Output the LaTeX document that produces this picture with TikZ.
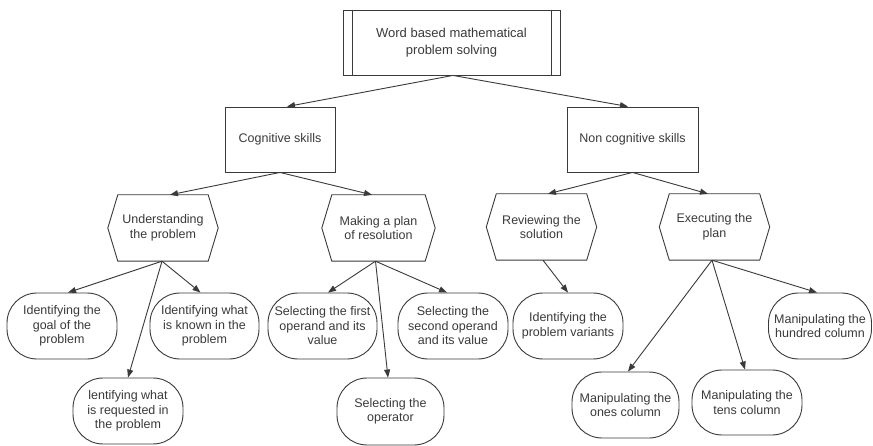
\documentclass[tikz,border=0pt]{standalone}
\usepackage{fontspec}
\setmainfont{Liberation Sans}
\usetikzlibrary{arrows.meta}
\definecolor{ink}{HTML}{3A3A3A}
\begin{document}
\begin{tikzpicture}[x=1pt,y=-1pt,
  txt/.style={text=ink, align=center, inner sep=0pt, font=\fontsize{12.5}{14.5}\selectfont},
  rectbox/.style={txt, draw=ink, line width=0.9pt},
  hexbox/.style={txt, minimum width=110pt, minimum height=66pt},
  roundbox/.style={txt, draw=ink, line width=0.9pt, rounded corners=30pt, minimum height=66pt},
  conn/.style={draw=ink, line width=0.9pt, -{Triangle[length=8pt,width=6pt]}},
  outline/.style={draw=ink, line width=0.9pt}
]
\fill[white] (0,0) rectangle (873,446);
\useasboundingbox (0,0) rectangle (873,446);

% root
\node[rectbox, minimum width=217pt, minimum height=65pt,
      font=\fontsize{13}{17}\selectfont] (t) at (451.5,42.5) {Word based mathematical\\problem solving};
\draw[outline] ([xshift=10pt]t.north west) -- ([xshift=10pt]t.south west);
\draw[outline] ([xshift=-9pt]t.north east) -- ([xshift=-9pt]t.south east);

% skill groups
\node[rectbox, minimum width=110pt, minimum height=65pt] (c) at (280,139.5) {Cognitive skills};
\node[rectbox, minimum width=131pt, minimum height=65pt] (n) at (632.5,139.5) {Non cognitive skills};

% phases (hexagons)
\node[hexbox] (u) at (163,228) {Understanding\\the problem};
\node[hexbox, minimum width=113pt] (m) at (378.5,228) {Making a plan\\of resolution};
\node[hexbox] (r) at (541.5,227) {Reviewing the\\solution};
\node[hexbox] (e) at (714.5,227) {Executing the\\plan};
\foreach \h in {u,m,r,e}
  \draw[outline] ([xshift=10pt]\h.north west) -- ([xshift=-10pt]\h.north east) -- (\h.east)
    -- ([xshift=-10pt]\h.south east) -- ([xshift=10pt]\h.south west) -- (\h.west) -- cycle;

% tasks
\node[roundbox, minimum width=110pt] (g1) at (62,326) {Identifying the\\goal of the\\problem};
\node[roundbox, minimum width=109pt] (g2) at (204.5,326) {Identifying what\\is known in the\\problem};
\node[roundbox, minimum width=110pt] (g3) at (128,411) {lentifying what\\is requested in\\the problem};
\node[roundbox, minimum width=109pt] (s1) at (322.5,326) {Selecting the first\\operand and its\\value};
\node[roundbox, minimum width=110pt] (s2) at (453,326) {Selecting the\\second operand\\and its value};
\node[roundbox, minimum width=107pt, minimum height=67pt] (s3) at (390.5,411.5) {Selecting the\\operator};
\node[roundbox, minimum width=110pt] (v) at (568,326) {Identifying the\\problem variants};
\node[roundbox, minimum width=103pt] (h) at (820,326) {Manipulating the\\hundred column};
\node[roundbox, minimum width=107pt] (o) at (625.5,405) {Manipulating the\\ones column};
\node[roundbox, minimum width=110pt, minimum height=65pt] (te) at (747,402.5) {Manipulating the\\tens column};

% connectors
\draw[conn] ([xshift=1.5pt]t.south) -- ([xshift=7pt]c.north);
\draw[conn] ([xshift=1.5pt]t.south) -- ([xshift=-4.5pt]n.north);
\draw[conn] (c.south) -- ([xshift=7pt]u.north);
\draw[conn] (c.south) -- ([xshift=-6.5pt]m.north);
\draw[conn] (n.south) -- ([xshift=6.5pt]r.north);
\draw[conn] (n.south) -- ([xshift=-6.5pt]e.north);
\draw[conn] ([xshift=-1pt]u.south) -- ([xshift=6pt]g1.north);
\draw[conn] ([xshift=-1pt]u.south) -- ([xshift=-4pt]g2.north);
\draw[conn] ([xshift=-1pt]u.south) -- (g3.north);
\draw[conn] ([xshift=-3pt]m.south) -- ([xshift=5.5pt]s1.north);
\draw[conn] ([xshift=-3pt]m.south) -- ([xshift=-6pt]s2.north);
\draw[conn] ([xshift=-3pt]m.south) -- ([xshift=-2.5pt]s3.north);
\draw[conn] ([xshift=1.5pt]r.south) -- (v.north);
\draw[conn] ([xshift=-2.5pt]e.south) -- ([xshift=2.5pt]o.north);
\draw[conn] ([xshift=-2.5pt]e.south) -- ([xshift=-2pt]te.north);
\draw[conn] ([xshift=-2.5pt]e.south) -- ([xshift=-3pt]h.north);
\end{tikzpicture}
\end{document}
